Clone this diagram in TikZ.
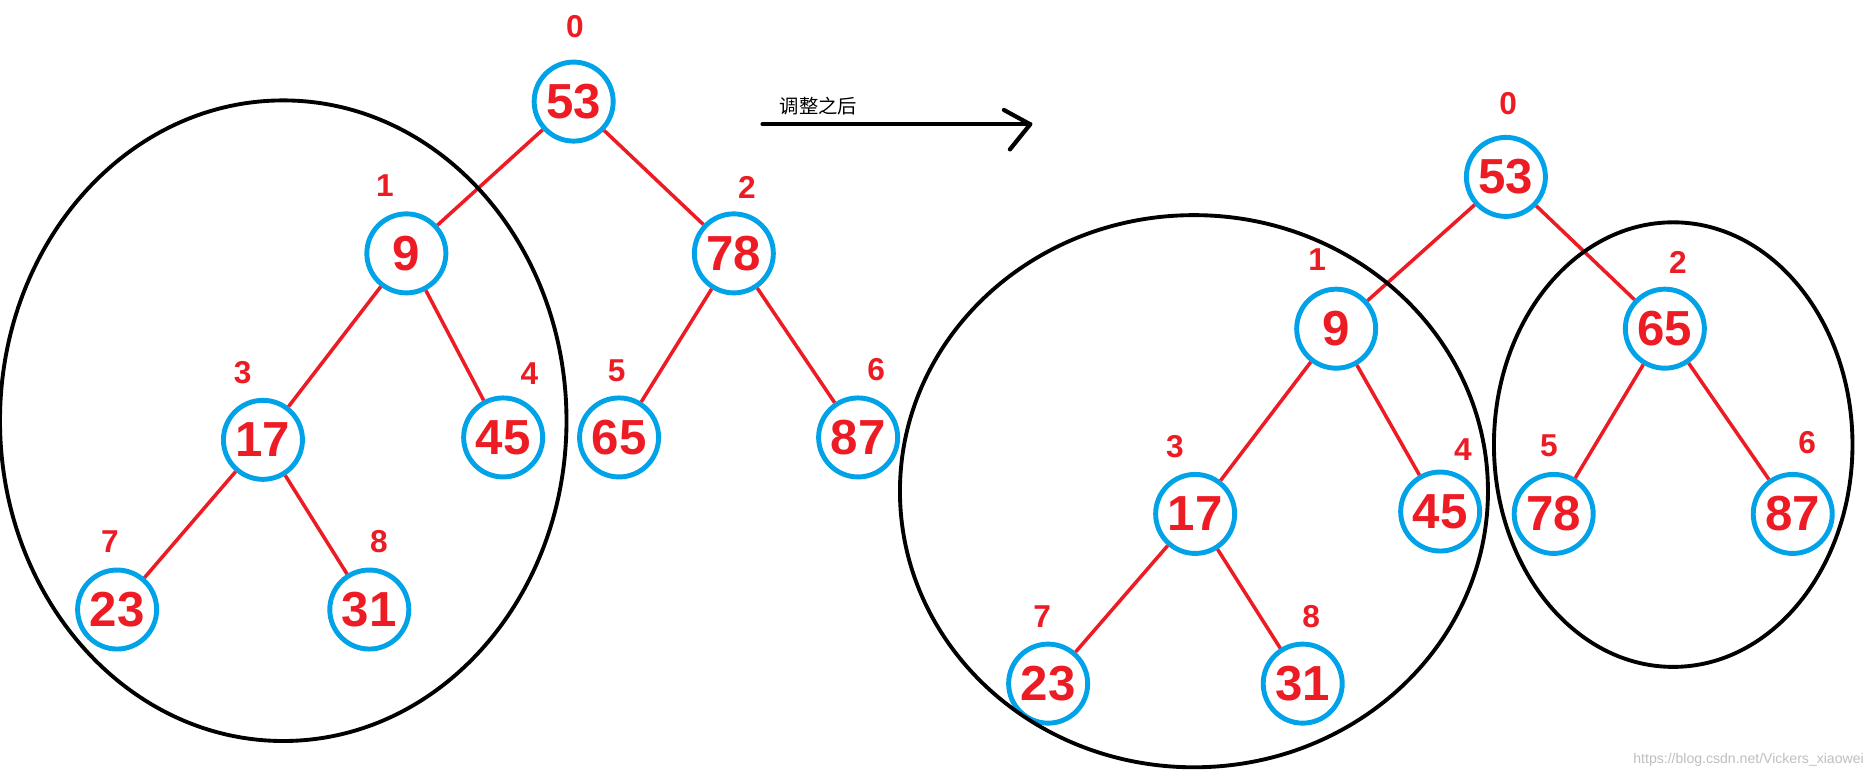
\documentclass[tikz,border=0pt]{standalone}
\usepackage{fontspec}
\setmainfont{Liberation Sans}
\newfontfamily\cjk{Noto Sans CJK SC}
\begin{document}
\begin{tikzpicture}[x=0.01195cm,y=-0.01195cm,
  nd/.style={circle,draw={rgb,255:red,0;green,162;blue,232},line width=1.4pt,minimum size=0.79cm,inner sep=0pt,text={rgb,255:red,237;green,28;blue,36},font=\fontsize{14}{14}\selectfont\bfseries},
  lb/.style={text={rgb,255:red,237;green,28;blue,36},font=\fontsize{9}{9}\selectfont\bfseries,inner sep=0pt},
  ed/.style={draw={rgb,255:red,237;green,28;blue,36},line width=1pt},
  el/.style={draw=black,line width=1.1pt}]
\useasboundingbox (0,0) rectangle (1568,653);
\fill[white] (0,0) rectangle (1568,653);
% left tree
\node[nd] (a0) at (480,85) {53};
\node[nd] (a1) at (340,212) {9};
\node[nd] (a2) at (614,212) {78};
\node[nd] (a3) at (220,368) {17};
\node[nd] (a4) at (421,366) {45};
\node[nd] (a5) at (518,366) {65};
\node[nd] (a6) at (718,366) {87};
\node[nd] (a7) at (98,510) {23};
\node[nd] (a8) at (309,510) {31};
\foreach \u/\v in {a0/a1,a0/a2,a1/a3,a1/a4,a2/a5,a2/a6,a3/a7,a3/a8}{\draw[ed] (\u) -- (\v);}
\node[lb] (la0) at (481,22) {0};
\node[lb] (la1) at (322,155) {1};
\node[lb] (la2) at (625,157) {2};
\node[lb] (la3) at (203,312) {3};
\node[lb] (la4) at (443,313) {4};
\node[lb] (la5) at (516,310) {5};
\node[lb] (la6) at (733,309) {6};
\node[lb] (la7) at (92,453) {7};
\node[lb] (la8) at (317,453) {8};
\draw[el] (237,352) ellipse [x radius=237,y radius=268];
% arrow
\coordinate (s) at (638,104);
\coordinate (t) at (862,104);
\draw[line width=1.2pt,line cap=round] (s) -- (t);
\draw[line width=1.2pt,line cap=round,line join=round] (840,92) -- (862,104) -- (845,125);
\node[font=\cjk\fontsize{5.5}{6}\selectfont,anchor=west,inner sep=0pt] (lbl) at (652,89) {调整之后};
% right tree
\node[nd] (b0) at (1260,148) {53};
\node[nd] (b1) at (1118,275) {9};
\node[nd] (b2) at (1393,275) {65};
\node[nd] (b3) at (1000,430) {17};
\node[nd] (b4) at (1205,428) {45};
\node[nd] (b5) at (1300,430) {78};
\node[nd] (b6) at (1500,430) {87};
\node[nd] (b7) at (877,572) {23};
\node[nd] (b8) at (1090,572) {31};
\foreach \u/\v in {b0/b1,b0/b2,b1/b3,b1/b4,b2/b5,b2/b6,b3/b7,b3/b8}{\draw[ed] (\u) -- (\v);}
\node[lb] (lb0) at (1262,87) {0};
\node[lb] (lb1) at (1102,217) {1};
\node[lb] (lb2) at (1404,220) {2};
\node[lb] (lb3) at (983,374) {3};
\node[lb] (lb4) at (1224,376) {4};
\node[lb] (lb5) at (1296,373) {5};
\node[lb] (lb6) at (1512,370) {6};
\node[lb] (lb7) at (872,516) {7};
\node[lb] (lb8) at (1097,516) {8};
\draw[el] (999,411) ellipse [x radius=246,y radius=231];
\draw[el] (1400,372) ellipse [x radius=150,y radius=186];
\node[text=black!25,font=\fontsize{4}{4}\selectfont,anchor=east,inner sep=0pt] (wm) at (1560,636) {https://blog.csdn.net/Vickers\_xiaowei};
\end{tikzpicture}
\end{document}
